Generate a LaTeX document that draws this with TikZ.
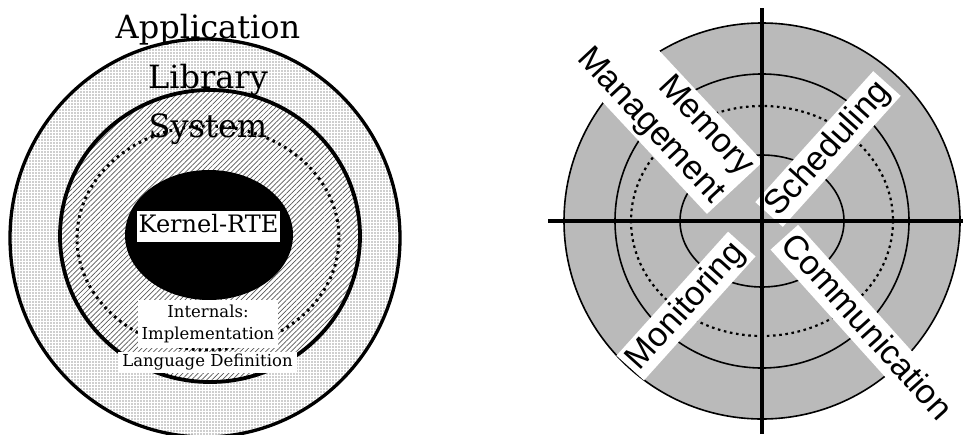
\documentclass[tikz,border=0pt]{standalone}
\usepackage{fontspec}
\setmainfont{DejaVu Serif}
\newfontfamily\labelsans{Liberation Sans}
\usetikzlibrary{patterns.meta}
\definecolor{discgray}{RGB}{186,186,186}
\begin{document}
\begin{tikzpicture}[x=1pt,y=-1pt,
  thickring/.style={line width=3.3pt},
  dotline/.style={line width=3pt, dash pattern=on 2.6pt off 4pt},
  thinring/.style={line width=1.6pt},
  thindots/.style={line width=2.2pt, dash pattern=on 2.6pt off 3.6pt},
  axis/.style={line width=3.8pt},
  titlefont/.style={font=\fontsize{32}{38}\selectfont},
  whitebox/.style={fill=white, inner sep=0pt},
  sanslabel/.style={fill=white, font=\labelsans\fontsize{34}{40}\selectfont,
    inner xsep=4pt, inner ysep=2pt},
  oneline/.style={text height=26pt, text depth=7pt}
]
\useasboundingbox (0,0) rectangle (963,434);

% ---------- layered language model ----------
% outer ring: dotted screen
\fill[white] (205,238) ellipse [x radius=195, y radius=199];
\path[pattern={Dots[distance=3pt,radius=0.55pt]}, pattern color=black!80]
  (205,238) ellipse [x radius=195, y radius=199];
\draw[thickring] (205,238) ellipse [x radius=195, y radius=199];
% inner region: hatched
\fill[white] (210,236) ellipse [x radius=150, y radius=146];
\path[pattern={Lines[angle=45,distance=3.6pt,line width=0.7pt]}, pattern color=black!65]
  (210,236) ellipse [x radius=150, y radius=146];
\draw[line width=3.8pt] (210,236) ellipse [x radius=150, y radius=146];
% dotted boundary
\draw[dotline] (208,238) ellipse [x radius=131, y radius=112];
% kernel
\fill[black] (209,235) ellipse [x radius=84, y radius=65];

\node (app) [titlefont, anchor=base] at (208,38) {Application};
\node (lib) [titlefont, anchor=base] at (208,88) {Library};
\node (sys) [titlefont, anchor=base] at (208,137) {System};
\node (kern) [whitebox, font=\fontsize{24}{28}\selectfont, minimum width=143pt,
  text height=17pt, text depth=5pt, inner ysep=4.5pt] at (208.5,226.5) {Kernel-RTE};
\node (intl) [whitebox, font=\fontsize{16.5}{22}\selectfont, align=center,
  minimum width=140pt, minimum height=48pt] at (208,324) {Internals:\\Implementation};
\node (lang) [whitebox, font=\fontsize{16.5}{20}\selectfont, minimum width=179pt,
  minimum height=21pt] at (207.5,362.5) {Language Definition};

% ---------- service quadrants ----------
\coordinate (hc) at (762,221);
\fill[discgray] (hc) circle [radius=198];
\draw[thinring] (hc) circle [radius=198];
\draw[thinring] (hc) circle [radius=147];
\draw[thindots] (hc) ellipse [x radius=131, y radius=115];
\draw[thinring] (hc) ellipse [x radius=82, y radius=66];

\node (mem) [sanslabel, align=right, inner ysep=3pt, rotate=-47, anchor=east]
  at (735,188) {Memory\\Management};
\node (sched) [sanslabel, oneline, rotate=48] at (828,149) {Scheduling};
\node (comm) [sanslabel, oneline, rotate=-48] at (866,328) {Communication};
\node (mon) [sanslabel, oneline, rotate=48] at (686,306) {Monitoring};

\coordinate (xl) at (548,221);
\coordinate (xr) at (963,221);
\coordinate (yt) at (762,8);
\coordinate (yb) at (762,434);
\draw[axis] (xl) -- (xr);
\draw[axis] (yt) -- (yb);
\end{tikzpicture}
\end{document}
